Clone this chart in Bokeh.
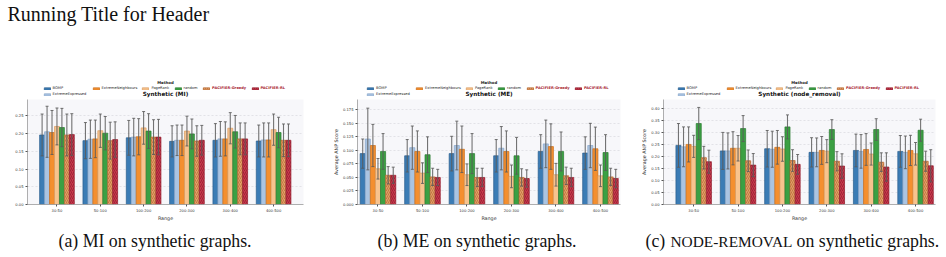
from bokeh.embed import file_html
from bokeh.layouts import column, row
from bokeh.models import (ColumnDataSource, FixedTicker, Label, Legend, LegendItem,
                          NumeralTickFormatter, Range1d, TeeHead, Whisker)
from bokeh.plotting import figure
from bokeh.resources import INLINE

# ---------------------------------------------------------------- data
ranges = ["30-50", "50-100", "100-200", "200-300", "300-400", "400-500"]
methods = ["BOMP", "ExtremeExpressed", "ExtremeNeighbours", "PageRank",
           "random", "PACIFIER-Greedy", "PACIFIER-RL"]

# Synthetic (MI): mean score and error half-width per size range
mi_bomp = [0.196, 0.180, 0.188, 0.178, 0.181, 0.179]
mi_ee = [0.205, 0.184, 0.190, 0.181, 0.185, 0.182]
mi_en = [0.203, 0.185, 0.191, 0.181, 0.185, 0.182]
mi_pr = [0.220, 0.208, 0.216, 0.207, 0.215, 0.211]
mi_random = [0.217, 0.201, 0.207, 0.199, 0.205, 0.203]
mi_greedy = [0.196, 0.180, 0.190, 0.179, 0.185, 0.181]
mi_rl = [0.197, 0.183, 0.190, 0.181, 0.185, 0.181]
mi_err_bomp = [0.059, 0.051, 0.049, 0.044, 0.047, 0.045]
mi_err_ee = [0.072, 0.054, 0.053, 0.043, 0.049, 0.048]
mi_err_en = [0.062, 0.053, 0.051, 0.043, 0.048, 0.048]
mi_err_pr = [0.052, 0.047, 0.046, 0.042, 0.044, 0.044]
mi_err_random = [0.054, 0.047, 0.049, 0.042, 0.046, 0.043]
mi_err_greedy = [0.059, 0.052, 0.049, 0.043, 0.045, 0.046]
mi_err_rl = [0.059, 0.050, 0.050, 0.042, 0.045, 0.046]

# Synthetic (ME)
me_bomp = [0.094, 0.090, 0.094, 0.090, 0.098, 0.095]
me_ee = [0.121, 0.105, 0.109, 0.104, 0.112, 0.109]
me_en = [0.109, 0.098, 0.102, 0.098, 0.107, 0.103]
me_pr = [0.066, 0.058, 0.055, 0.052, 0.055, 0.053]
me_random = [0.098, 0.092, 0.094, 0.090, 0.098, 0.096]
me_greedy = [0.054, 0.051, 0.050, 0.050, 0.053, 0.051]
me_rl = [0.054, 0.050, 0.050, 0.048, 0.050, 0.048]
me_err_bomp = [0.027, 0.030, 0.032, 0.030, 0.031, 0.030]
me_err_ee = [0.057, 0.040, 0.045, 0.040, 0.044, 0.041]
me_err_en = [0.039, 0.038, 0.043, 0.038, 0.042, 0.040]
me_err_pr = [0.019, 0.019, 0.020, 0.021, 0.021, 0.020]
me_err_random = [0.033, 0.033, 0.037, 0.034, 0.036, 0.033]
me_err_greedy = [0.016, 0.016, 0.017, 0.016, 0.016, 0.016]
me_err_rl = [0.015, 0.015, 0.017, 0.016, 0.017, 0.017]

# Synthetic (node_removal)
nr_bomp = [0.246, 0.223, 0.232, 0.217, 0.225, 0.221]
nr_ee = [0.240, 0.223, 0.230, 0.217, 0.221, 0.217]
nr_en = [0.250, 0.234, 0.238, 0.225, 0.229, 0.225]
nr_pr = [0.242, 0.234, 0.231, 0.222, 0.210, 0.211]
nr_random = [0.337, 0.316, 0.323, 0.312, 0.312, 0.309]
nr_greedy = [0.195, 0.182, 0.183, 0.180, 0.176, 0.180]
nr_rl = [0.178, 0.164, 0.167, 0.160, 0.156, 0.161]
nr_err_bomp = [0.091, 0.077, 0.076, 0.061, 0.068, 0.066]
nr_err_ee = [0.083, 0.075, 0.075, 0.060, 0.070, 0.068]
nr_err_en = [0.073, 0.069, 0.070, 0.058, 0.066, 0.063]
nr_err_pr = [0.046, 0.053, 0.051, 0.048, 0.046, 0.047]
nr_err_random = [0.067, 0.054, 0.050, 0.041, 0.045, 0.046]
nr_err_greedy = [0.047, 0.045, 0.045, 0.040, 0.039, 0.042]
nr_err_rl = [0.048, 0.048, 0.041, 0.051, 0.059, 0.067]

captions = ["(a) MI on synthetic graphs.", "(b) ME on synthetic graphs."]
panel_titles = ["Synthetic (MI)", "Synthetic (ME)", "Synthetic (node_removal)"]

# ---------------------------------------------------------------- styling
fills = ["#3b7cb5", "#aac4e2", "#f48f2f", "#f8c38e", "#3ba043", "#e3a06b", "#c9384c"]
edges = ["#2a5d8c", "#87a5c9", "#c86f1c", "#d99c62", "#2a7a30", "#b66a33", "#94202f"]
hatches = [None, None, None, None, None, "#b8682f", "#8c1d2e"]
SANS = "DejaVu Sans"
SERIF = "Liberation Serif"
W = 946
TOP_H, MID_H, BOT_H = 99, 126, 32
FRAME_BOTTOM = 21
ERR_COLOR = "#5a5a5a"
# (figure width, left border, right border) of the three chart panels
PANELS = [(322, 27, 19), (316, 35, 18), (308, 25, 11)]
# legend swatch offsets from the panel centre: (dx, row)
LEGEND_SLOTS = [(-122.4, 1), (-122.4, 2), (-73.4, 1), (-23.6, 1), (8.6, 1), (37.1, 1), (85.5, 1)]


def bar_style(j):
    kw = dict(fill_color=fills[j], line_color=edges[j], line_width=0.7)
    if hatches[j]:
        kw.update(hatch_pattern="/", hatch_color=hatches[j], hatch_scale=4, hatch_weight=0.7)
    return kw


def blank(height):
    p = figure(width=W, height=height, output_backend="svg", toolbar_location=None,
               title=None, x_range=Range1d(0, W), y_range=Range1d(0, height),
               x_axis_type=None, y_axis_type=None, min_border=0,
               min_border_left=0, min_border_right=0, min_border_top=0, min_border_bottom=0)
    p.grid.visible = False
    p.outline_line_color = None
    p.background_fill_color = "white"
    p.border_fill_color = "white"
    return p


def make_panel(means, errs, y_hi, step, fmt, width, left, right, x_lo, x_hi, ylabel):
    p = figure(width=width, height=MID_H, output_backend="svg", toolbar_location=None,
               title=None, x_range=Range1d(x_lo, x_hi), y_range=Range1d(0, y_hi), min_border=0,
               min_border_left=left, min_border_right=right,
               min_border_top=0, min_border_bottom=FRAME_BOTTOM)
    p.background_fill_color = "#f7f7fa"
    p.border_fill_color = "white"
    p.outline_line_color = None
    p.xgrid.visible = False
    p.ygrid.grid_line_color = "#d9d9de"
    p.ygrid.grid_line_dash = "2 2"
    p.ygrid.grid_line_width = 0.7

    p.xaxis.ticker = FixedTicker(ticks=list(range(len(ranges))))
    p.xaxis.major_label_overrides = {i: r for i, r in enumerate(ranges)}
    p.xaxis.axis_label = "Range"
    ticks = []
    v = 0.0
    while v <= y_hi + 1e-9:
        ticks.append(round(v, 4))
        v += step
    p.yaxis.ticker = FixedTicker(ticks=ticks)
    p.yaxis.formatter = NumeralTickFormatter(format=fmt)
    if ylabel:
        p.yaxis.axis_label = "Average ANP Score"
    for ax in (p.xaxis, p.yaxis):
        ax.axis_label_text_font_size = "4.8px"
        ax.axis_label_text_font_style = "normal"
        ax.axis_label_text_font = SANS
        ax.axis_label_text_color = "#333333"
        ax.axis_label_standoff = 1
        ax.major_label_text_font_size = "3.7px"
        ax.major_label_text_font = SANS
        ax.major_label_text_color = "#333333"
        ax.major_label_standoff = 2
        ax.major_tick_in = 0
        ax.major_tick_out = 2
        ax.minor_tick_in = 0
        ax.minor_tick_out = 0
        ax.major_tick_line_color = "#555555"
        ax.axis_line_color = "#9a9a9a"
        ax.axis_line_width = 0.8

    n = len(methods)
    bw = 0.8 / n
    for j in range(n):
        xs = [i + (j - (n - 1) / 2) * bw for i in range(len(ranges))]
        src = ColumnDataSource(dict(
            x=xs, top=means[j],
            upper=[m + e for m, e in zip(means[j], errs[j])],
            lower=[m - e for m, e in zip(means[j], errs[j])]))
        p.vbar(x="x", top="top", bottom=0, width=bw, source=src, **bar_style(j))
        head = dict(size=3, line_color=ERR_COLOR, line_width=1.0, line_alpha=0.85)
        p.add_layout(Whisker(source=src, base="x", upper="upper", lower="lower",
                             line_color=ERR_COLOR, line_width=1.1, line_alpha=0.85,
                             level="overlay", upper_head=TeeHead(**head),
                             lower_head=TeeHead(**head)))
    return p


pa = make_panel([mi_bomp, mi_ee, mi_en, mi_pr, mi_random, mi_greedy, mi_rl],
                [mi_err_bomp, mi_err_ee, mi_err_en, mi_err_pr, mi_err_random, mi_err_greedy, mi_err_rl],
                0.296, 0.05, "0.00", *PANELS[0], -0.68, 5.69, False)
pb = make_panel([me_bomp, me_ee, me_en, me_pr, me_random, me_greedy, me_rl],
                [me_err_bomp, me_err_ee, me_err_en, me_err_pr, me_err_random, me_err_greedy, me_err_rl],
                0.194, 0.025, "0.000", *PANELS[1], -0.46, 5.45, True)
pc = make_panel([nr_bomp, nr_ee, nr_en, nr_pr, nr_random, nr_greedy, nr_rl],
                [nr_err_bomp, nr_err_ee, nr_err_en, nr_err_pr, nr_err_random, nr_err_greedy, nr_err_rl],
                0.437, 0.05, "0.00", *PANELS[2], -0.68, 5.45, True)

# ---------------------------------------------------------------- header strip
top = blank(TOP_H)
top.add_layout(Label(x=7, y=TOP_H - 13.5, text="Running Title for Header",
                     text_font=SERIF, text_font_size="20px", text_baseline="alphabetic",
                     text_color="#111111"))

# off-canvas, zero-height bars that only carry the bar styles for the legend swatches
swatches = [top.vbar(x=[-100], top=[0], width=1, **bar_style(j)) for j in range(len(methods))]


def swatch_legend(j, x, y):
    red = methods[j].startswith("PACIFIER")
    lg = Legend(items=[LegendItem(label=methods[j], renderers=[swatches[j]])],
                location=(x, y), orientation="horizontal",
                label_text_font_size="3.6px", label_text_font=SANS,
                label_text_color="#a8242f" if red else "#262626",
                label_text_font_style="bold" if red else "normal",
                glyph_width=8, glyph_height=3, label_height=4, label_standoff=2,
                spacing=0, padding=0, margin=0,
                border_line_alpha=0, background_fill_alpha=0)
    top.add_layout(lg, "center")


ROW_BOTTOM = {1: 9, 2: 3}
x0 = 0
for k, (w, left, right) in enumerate(PANELS):
    cx = x0 + left + (w - left - right) / 2
    for j, (dx, r) in enumerate(LEGEND_SLOTS):
        swatch_legend(j, cx + dx, ROW_BOTTOM[r])
    top.add_layout(Label(x=cx, y=17, text="Method", text_align="center",
                         text_baseline="alphabetic", text_font=SANS,
                         text_font_style="bold", text_font_size="3.9px", text_color="#222222"))
    top.add_layout(Label(x=cx, y=6, text=panel_titles[k], text_align="center",
                         text_baseline="alphabetic", text_font=SANS,
                         text_font_style="bold", text_font_size="5.7px", text_color="#111111"))
    x0 += w

# ---------------------------------------------------------------- caption strip
bot = blank(BOT_H)
cap_y = 16.5
cap = dict(text_font=SERIF, text_baseline="alphabetic", text_color="#111111")
bot.add_layout(Label(x=154.5, y=cap_y, text=captions[0], text_align="center",
                     text_font_size="17.8px", **cap))
bot.add_layout(Label(x=476.5, y=cap_y, text=captions[1], text_align="center",
                     text_font_size="17.8px", **cap))
bot.add_layout(Label(x=645, y=cap_y, text="(c)", text_font_size="17.8px", **cap))
bot.add_layout(Label(x=670, y=cap_y, text="NODE-REMOVAL", text_font_size="15.4px", **cap))
bot.add_layout(Label(x=796, y=cap_y, text="on synthetic graphs.", text_font_size="17.8px", **cap))

layout = column(top, row(pa, pb, pc, spacing=0), bot, spacing=0)
open("out.html", "w").write(file_html(layout, INLINE))
